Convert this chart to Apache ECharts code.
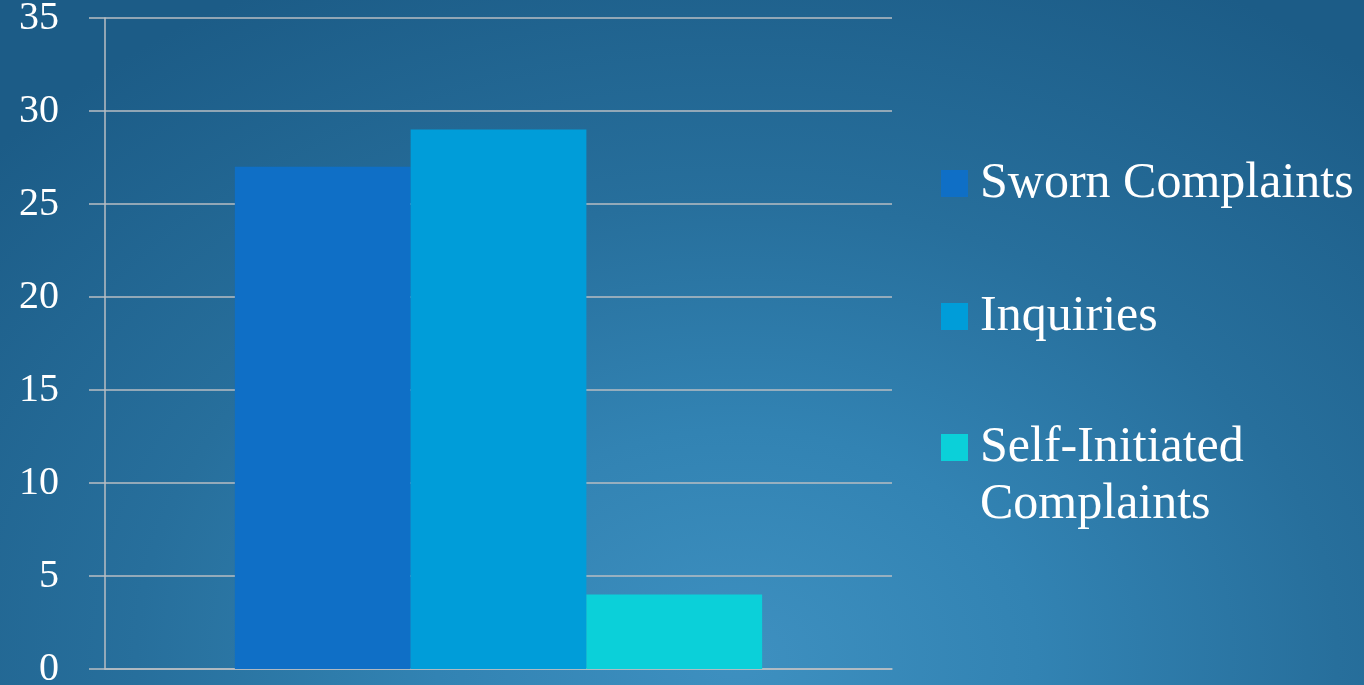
<!DOCTYPE html>
<html>
<head>
<meta charset="utf-8">
<script src="https://cdn.jsdelivr.net/npm/echarts@6/dist/echarts.min.js"></script>
<style>
html,body{margin:0;padding:0;width:1364px;height:685px;overflow:hidden;}
#chart{width:1364px;height:685px;
background: radial-gradient(ellipse 1000px 760px at 54% 96%, #3e90c0 0%, #3283b3 30%, #276f9c 60%, #1c5c87 100%);}
</style>
</head>
<body>
<div id="chart"></div>
<script>
var categories = [''];
var seriesNames = ['Sworn Complaints', 'Inquiries', 'Self-Initiated Complaints'];
var swornValues = [27];
var inquiryValues = [29];
var selfInitiatedValues = [4];
var yTicks = [0, 5, 10, 15, 20, 25, 30, 35];
var colors = ['#0f6fc6', '#009dd9', '#0bd0d9'];

var chart = echarts.init(document.getElementById('chart'), null, {renderer: 'canvas'});
var gridLineColor = '#b9bec3';
var labelFont = '"Liberation Serif", "DejaVu Serif", serif';

function legendFor(name, top, fmt) {
  var l = {
    show: true,
    orient: 'vertical',
    left: 941,
    top: top,
    padding: 0,
    itemWidth: 27,
    itemHeight: 27,
    icon: 'rect',
    textStyle: {
      color: '#ffffff',
      fontFamily: labelFont,
      fontSize: 50,
      lineHeight: 57,
      padding: [0, 0, 0, 7]
    },
    data: [name]
  };
  if (fmt) l.formatter = fmt;
  return l;
}

chart.setOption({
  backgroundColor: 'transparent',
  animation: false,
  color: colors,
  grid: {left: 105, right: 1364 - 892, top: 18, bottom: 685 - 669, containLabel: false, outerBoundsMode: 'none'},
  legend: [
    legendFor(seriesNames[0], 155),
    legendFor(seriesNames[1], 288),
    legendFor(seriesNames[2], 362, function () { return '\nSelf-Initiated\nComplaints'; })
  ],
  xAxis: {
    type: 'category',
    data: categories,
    axisLine: {show: true, lineStyle: {color: gridLineColor, width: 1.5}},
    axisTick: {show: false},
    axisLabel: {show: false},
    splitLine: {show: false}
  },
  yAxis: {
    type: 'value',
    min: yTicks[0],
    max: yTicks[yTicks.length - 1],
    interval: yTicks[1] - yTicks[0],
    axisLine: {show: true, lineStyle: {color: gridLineColor, width: 1.5}},
    axisTick: {show: true, length: 16, lineStyle: {color: gridLineColor, width: 1.5}},
    axisLabel: {
      color: '#ffffff',
      fontFamily: labelFont,
      fontSize: 40,
      margin: 46,
      formatter: function (v) { return String(v); }
    },
    splitLine: {show: true, lineStyle: {color: gridLineColor, width: 1.5}}
  },
  series: [
    {name: seriesNames[0], type: 'bar', data: swornValues, barGap: '0%', barCategoryGap: '33%', itemStyle: {color: colors[0]}},
    {name: seriesNames[1], type: 'bar', data: inquiryValues, barGap: '0%', barCategoryGap: '33%', itemStyle: {color: colors[1]}},
    {name: seriesNames[2], type: 'bar', data: selfInitiatedValues, barGap: '0%', barCategoryGap: '33%', itemStyle: {color: colors[2]}}
  ]
});
</script>
</body>
</html>
